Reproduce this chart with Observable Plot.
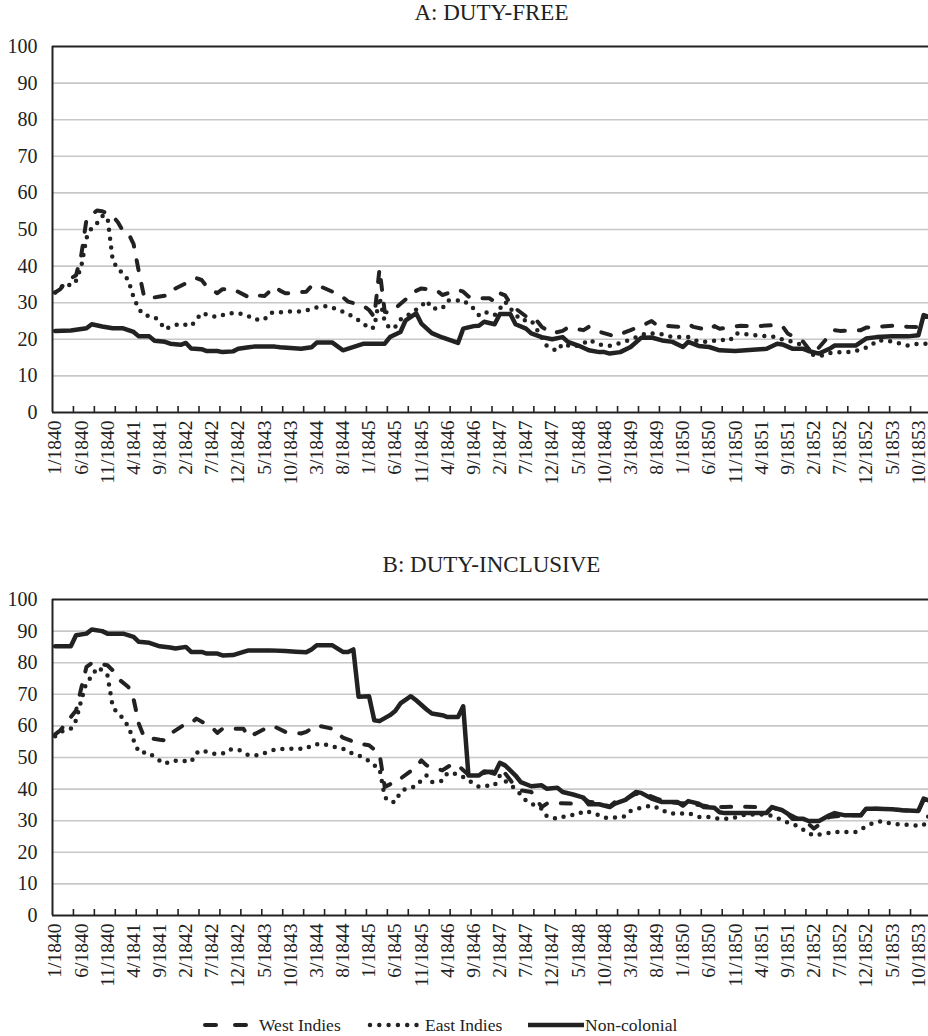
<!DOCTYPE html>
<html><head><meta charset="utf-8">
<script src="https://cdn.jsdelivr.net/npm/d3@7"></script>
<script src="https://cdn.jsdelivr.net/npm/@observablehq/plot@0.6"></script>
<style>
body{margin:0;background:#fff;}
#wrap{position:relative;width:928px;height:1036px;overflow:hidden;font-family:"Liberation Serif","Times New Roman",serif;color:#222;background:#fff;}
.title{position:absolute;left:52px;width:879px;text-align:center;font-size:23px;line-height:23px;white-space:nowrap;z-index:2;}
.panel{position:absolute;left:0;z-index:1;}
.leg{position:absolute;top:1014px;height:22px;font-size:17.5px;line-height:22px;white-space:nowrap;z-index:2;}
svg.sample{position:absolute;top:0;left:0;overflow:visible;z-index:2;}
</style></head>
<body><div id="wrap">
<div class="panel" id="pa" style="top:0"></div>
<div class="panel" id="pb" style="top:520px"></div>
<div class="title" style="top:1px">A: DUTY-FREE</div>
<div class="title" style="top:553px">B: DUTY-INCLUSIVE</div>
<svg class="sample" width="928" height="1036" style="pointer-events:none">
  <line x1="205" x2="248" y1="1025" y2="1025" stroke="#222" stroke-width="4" stroke-dasharray="11,19" stroke-linecap="round"/>
  <line x1="370" x2="417" y1="1025" y2="1025" stroke="#222" stroke-width="4.5" stroke-dasharray="0,9.3" stroke-linecap="round"/>
  <line x1="528" x2="584" y1="1025" y2="1025" stroke="#222" stroke-width="4.5"/>
</svg>
<div class="leg" style="left:259px">West Indies</div>
<div class="leg" style="left:425px">East Indies</div>
<div class="leg" style="left:585px">Non-colonial</div>
</div>
<script>
// month index 0 = 1/1840 ... 167 = 12/1853
const tickLabels = ["1/1840","6/1840","11/1840","4/1841","9/1841","2/1842","7/1842","12/1842","5/1843","10/1843","3/1844","8/1844","1/1845","6/1845","11/1845","4/1846","9/1846","2/1847","7/1847","12/1847","5/1848","10/1848","3/1849","8/1849","1/1850","6/1850","11/1850","4/1851","9/1851","2/1852","7/1852","12/1852","5/1853","10/1853"];
const seriesNames = ["West Indies","East Indies","Non-colonial"];

// Panel A: duty-free  [month index, value]
const westIndiesFree = [[0,32.8],[1,33.7],[2,35.8],[4,37.5],[5,43.0],[6,52.8],[8,55.2],[9,55.0],[11,53.7],[12,52.0],[13,49.5],[14,49.0],[15,46.0],[16,38.5],[17,31.7],[18,31.2],[20,31.7],[22,32.1],[23,33.9],[27,36.7],[28,36.2],[29,34.4],[31,32.6],[32,33.7],[34,33.7],[37,31.5],[38,32.1],[40,31.8],[42,34.4],[43,33.3],[44,32.6],[45,32.6],[48,33.0],[49,34.6],[50,34.9],[53,33.0],[55,31.5],[56,30.3],[59,29.1],[60,28.0],[61,26.1],[62,39.2],[63,27.5],[64,27.2],[67,30.9],[68,32.6],[70,33.9],[72,33.5],[73,33.3],[74,32.1],[77,33.5],[78,33.0],[79,31.7],[80,31.2],[83,31.2],[84,30.3],[85,32.6],[86,32.0],[87,29.8],[88,28.4],[91,25.2],[92,25.2],[93,23.4],[95,21.6],[97,22.3],[98,23.2],[101,22.5],[102,23.4],[103,22.5],[107,20.8],[108,21.4],[110,22.5],[113,24.3],[114,25.0],[115,23.9],[119,23.4],[121,24.1],[122,23.4],[125,22.5],[126,23.6],[127,22.9],[131,23.7],[134,23.6],[138,23.9],[139,23.6],[140,21.6],[143,19.3],[144,17.4],[145,16.1],[148,21.1],[149,22.5],[150,22.3],[154,22.5],[155,23.2],[157,23.4],[160,23.7],[163,23.4],[167,23.3]];
const eastIndiesFree = [[0,32.8],[2,35.3],[3,34.6],[4,36.0],[5,39.9],[6,47.7],[7,50.5],[8,51.7],[9,53.7],[10,53.5],[11,41.7],[12,39.0],[13,38.1],[14,36.1],[15,31.5],[16,28.2],[17,26.6],[19,26.1],[20,24.8],[21,22.7],[22,23.4],[24,24.3],[26,23.6],[27,25.4],[28,27.2],[30,26.3],[31,26.1],[33,27.1],[35,27.2],[37,26.3],[38,25.4],[40,25.4],[41,27.2],[43,27.4],[45,27.6],[47,27.6],[49,28.2],[50,28.7],[51,28.9],[52,29.1],[54,28.2],[56,26.9],[57,26.1],[59,24.3],[60,22.9],[61,23.2],[62,31.5],[63,24.8],[64,22.9],[65,23.4],[66,25.4],[68,27.1],[70,29.1],[71,30.6],[72,28.4],[74,28.4],[75,30.6],[77,30.6],[78,30.7],[80,28.4],[81,26.6],[82,27.5],[84,26.6],[85,28.4],[86,30.3],[87,28.4],[89,25.2],[91,25.2],[92,22.9],[94,18.1],[96,16.8],[97,18.8],[99,17.9],[101,18.8],[102,19.9],[104,18.6],[106,18.2],[108,19.0],[110,19.9],[113,21.7],[116,21.4],[118,20.6],[120,20.6],[121,20.6],[123,19.3],[125,19.3],[127,19.9],[129,19.7],[130,21.6],[132,21.4],[134,21.1],[136,20.8],[138,20.6],[139,19.9],[141,19.3],[143,18.3],[145,15.6],[147,15.6],[148,16.2],[150,16.5],[152,16.5],[154,17.2],[156,18.3],[157,19.7],[159,19.7],[161,19.0],[163,18.3],[165,18.8],[167,18.8]];
const nonColonialFree = [[0,22.3],[3,22.4],[6,23.0],[7,24.1],[9,23.5],[11,23.0],[13,23.0],[15,22.0],[16,20.8],[18,20.8],[19,19.6],[21,19.3],[22,18.8],[24,18.5],[25,19.0],[26,17.5],[28,17.3],[29,16.8],[31,16.8],[32,16.5],[34,16.7],[35,17.4],[37,17.8],[38,18.0],[42,18.0],[43,17.8],[45,17.6],[47,17.4],[49,17.8],[50,19.1],[53,19.1],[55,17.0],[59,18.8],[63,18.8],[64,20.6],[66,22.0],[67,25.2],[69,27.1],[70,24.3],[72,21.7],[74,20.5],[77,19.0],[78,22.9],[80,23.6],[81,23.7],[82,24.8],[84,24.1],[85,26.9],[87,26.9],[88,24.1],[90,22.9],[91,21.6],[93,20.6],[95,20.0],[97,20.6],[98,19.3],[100,18.3],[102,17.0],[104,16.5],[105,16.5],[106,16.1],[108,16.5],[110,17.9],[112,20.4],[114,20.5],[116,19.7],[118,19.3],[120,17.9],[121,19.3],[123,18.2],[125,17.9],[127,17.0],[130,16.8],[134,17.2],[136,17.4],[138,18.8],[139,18.6],[141,17.4],[143,17.4],[144,16.8],[146,16.1],[148,17.4],[149,18.3],[151,18.3],[153,18.3],[155,20.2],[157,20.6],[160,20.8],[163,20.8],[165,21.1],[166,26.6],[167,26.1]];

// Panel B: duty-inclusive
const westIndiesIncl = [[0,57.3],[1,58.6],[2,60.7],[4,64.9],[5,72.0],[6,78.7],[7,79.9],[9,79.5],[10,79.2],[11,77.6],[12,75.0],[14,72.3],[15,68.5],[16,60.7],[17,56.5],[20,55.6],[21,55.4],[22,57.5],[25,60.7],[26,60.9],[27,62.3],[30,59.5],[31,57.8],[32,59.1],[36,59.1],[37,56.5],[38,57.3],[41,59.9],[42,59.7],[44,58.1],[47,57.6],[48,58.1],[50,60.2],[53,59.1],[54,57.6],[55,56.3],[58,54.4],[60,53.9],[61,52.5],[62,51.2],[63,40.7],[64,41.5],[65,43.0],[66,43.3],[69,47.0],[70,49.1],[71,47.5],[74,45.9],[75,47.0],[76,48.0],[77,47.5],[79,44.5],[81,44.8],[83,45.5],[85,45.8],[86,45.0],[88,40.7],[89,39.6],[91,39.1],[93,34.3],[94,35.4],[96,35.6],[99,35.4],[100,35.9],[101,37.0],[102,36.0],[104,35.5],[106,34.5],[107,35.9],[109,36.8],[111,38.5],[113,38.3],[115,37.0],[117,35.9],[119,35.6],[121,35.5],[123,35.0],[125,34.5],[128,34.3],[131,34.5],[134,34.3],[136,32.7],[137,34.3],[140,32.2],[142,30.6],[144,29.0],[145,27.5],[148,31.2],[151,31.7],[154,31.7],[155,33.8],[157,33.8],[160,33.6],[162,33.3],[165,33.1],[166,36.6],[167,36.0]];
const eastIndiesIncl = [[0,56.7],[1,58.1],[3,59.1],[4,61.8],[5,68.1],[6,73.9],[7,75.5],[8,78.5],[9,77.6],[10,76.0],[11,66.2],[12,63.7],[13,62.5],[14,59.7],[15,55.5],[16,51.7],[18,51.5],[19,50.0],[21,48.0],[22,48.9],[24,49.1],[26,48.6],[27,51.4],[28,52.3],[30,51.2],[32,51.2],[33,52.5],[35,52.5],[37,50.7],[39,50.7],[40,51.4],[42,52.5],[44,52.8],[46,52.8],[48,52.8],[49,53.9],[51,54.4],[53,53.5],[55,52.8],[56,51.7],[58,50.7],[60,48.9],[61,47.5],[62,46.5],[63,37.5],[64,35.9],[65,35.9],[66,39.1],[67,40.1],[69,40.9],[70,42.8],[71,44.3],[72,42.2],[74,42.6],[75,45.1],[77,44.7],[78,43.8],[80,41.7],[81,40.7],[83,41.2],[84,41.2],[85,44.3],[86,42.6],[88,40.1],[90,36.4],[91,35.4],[93,33.8],[94,31.4],[96,30.6],[98,31.7],[100,32.0],[101,33.1],[103,32.4],[105,30.9],[107,31.0],[109,31.4],[110,33.1],[112,34.1],[114,34.8],[116,33.5],[117,32.4],[119,32.2],[121,32.4],[123,31.2],[125,31.2],[127,30.6],[129,30.6],[132,32.0],[134,32.0],[136,32.0],[138,30.9],[139,29.9],[141,29.0],[142,28.2],[144,26.1],[145,25.3],[147,25.9],[149,26.4],[151,26.4],[153,26.4],[155,28.2],[156,29.0],[158,29.9],[160,29.0],[162,28.8],[164,28.5],[166,28.5],[167,31.7]];
const nonColonialIncl = [[0,85.2],[3,85.2],[4,88.7],[6,89.2],[7,90.5],[9,90.0],[10,89.2],[13,89.2],[15,88.2],[16,86.6],[18,86.3],[20,85.2],[22,84.8],[23,84.5],[25,85.0],[26,83.4],[28,83.4],[29,82.9],[31,82.9],[32,82.3],[34,82.4],[36,83.4],[37,83.9],[41,83.9],[44,83.7],[46,83.5],[48,83.3],[49,84.2],[50,85.5],[53,85.5],[55,83.4],[56,83.4],[57,84.2],[58,69.2],[60,69.4],[61,61.8],[62,61.5],[64,63.4],[65,64.7],[66,67.1],[68,69.4],[69,68.1],[71,65.2],[72,63.9],[74,63.4],[75,62.8],[77,62.8],[78,66.2],[79,44.3],[81,44.3],[82,45.6],[83,45.4],[84,44.9],[85,48.3],[86,47.5],[88,44.3],[89,42.2],[91,40.9],[93,41.2],[94,40.1],[96,40.4],[97,39.1],[99,38.3],[101,37.3],[102,35.2],[104,35.2],[106,34.3],[107,35.4],[109,36.6],[111,39.1],[112,38.8],[114,37.0],[116,35.9],[119,35.9],[120,34.8],[121,36.2],[123,35.4],[124,34.3],[126,34.1],[127,32.7],[128,32.4],[132,32.4],[134,32.4],[136,32.4],[137,34.3],[139,33.3],[140,32.2],[141,30.6],[143,30.6],[144,29.9],[146,29.9],[148,31.7],[149,32.4],[151,31.7],[154,31.7],[155,33.8],[157,33.8],[160,33.6],[162,33.3],[165,33.1],[166,37.0],[167,36.4]];

const nMonths = 168;
const labelIdx = tickLabels.map((_, k) => k * 5);
const tickPos = d3.range(3.5, nMonths, 4);
const ink = "#222";
const fam = "Times New Roman";

function panel(wi, ei, nc, height, marginTop, marginBottom) {
  const plotH = height - marginTop - marginBottom;
  const lineOpts = {x: d => d[0], y: d => d[1], stroke: ink};
  const svg = Plot.plot({
    width: 928, height, marginTop, marginBottom, marginLeft: 52, marginRight: 0,
    style: {"font-family": fam, color: ink, background: "white", overflow: "visible"},
    x: {domain: [-0.5, nMonths - 0.5], range: [52, 931]},
    y: {domain: [0, 100]},
    marks: [
      Plot.ruleY(d3.range(10, 100, 10), {stroke: "#c8c8c8", strokeWidth: 1.6}),
      Plot.axisY({ticks: d3.range(0, 101, 10), tickSize: 0, tickPadding: 15, fontSize: 20, fontFamily: fam}),
      Plot.axisX({ticks: labelIdx, tickFormat: d => tickLabels[Math.round(d / 5)], tickRotate: -90, tickSize: 0, tickPadding: 8, fontSize: 19.5, fontFamily: fam}),
      Plot.ruleX(tickPos, {stroke: ink, strokeWidth: 1.6, insetTop: plotH - 6}),
      Plot.line(wi, {...lineOpts, strokeWidth: 4, strokeDasharray: "10,14", strokeLinecap: "round", strokeLinejoin: "round"}),
      Plot.line(ei, {...lineOpts, strokeWidth: 4.5, strokeDasharray: "0,9", strokeLinecap: "round"}),
      Plot.line(nc, {...lineOpts, strokeWidth: 4.5, strokeLinejoin: "round"}),
      Plot.ruleY([0, 100], {stroke: ink, strokeWidth: 2}),
      Plot.ruleX([-0.5], {stroke: ink, strokeWidth: 2})
    ]
  });
  svg.setAttribute("font-family", fam);
  svg.querySelectorAll("text").forEach(el => {
    el.setAttribute("font-family", fam);
    el.style.setProperty("font-family", fam, "important");
  });
  return svg;
}

document.getElementById("pa").appendChild(panel(westIndiesFree, eastIndiesFree, nonColonialFree, 490, 46, 78));
document.getElementById("pb").appendChild(panel(westIndiesIncl, eastIndiesIncl, nonColonialIncl, 470, 79, 75));
</script>
</body></html>
